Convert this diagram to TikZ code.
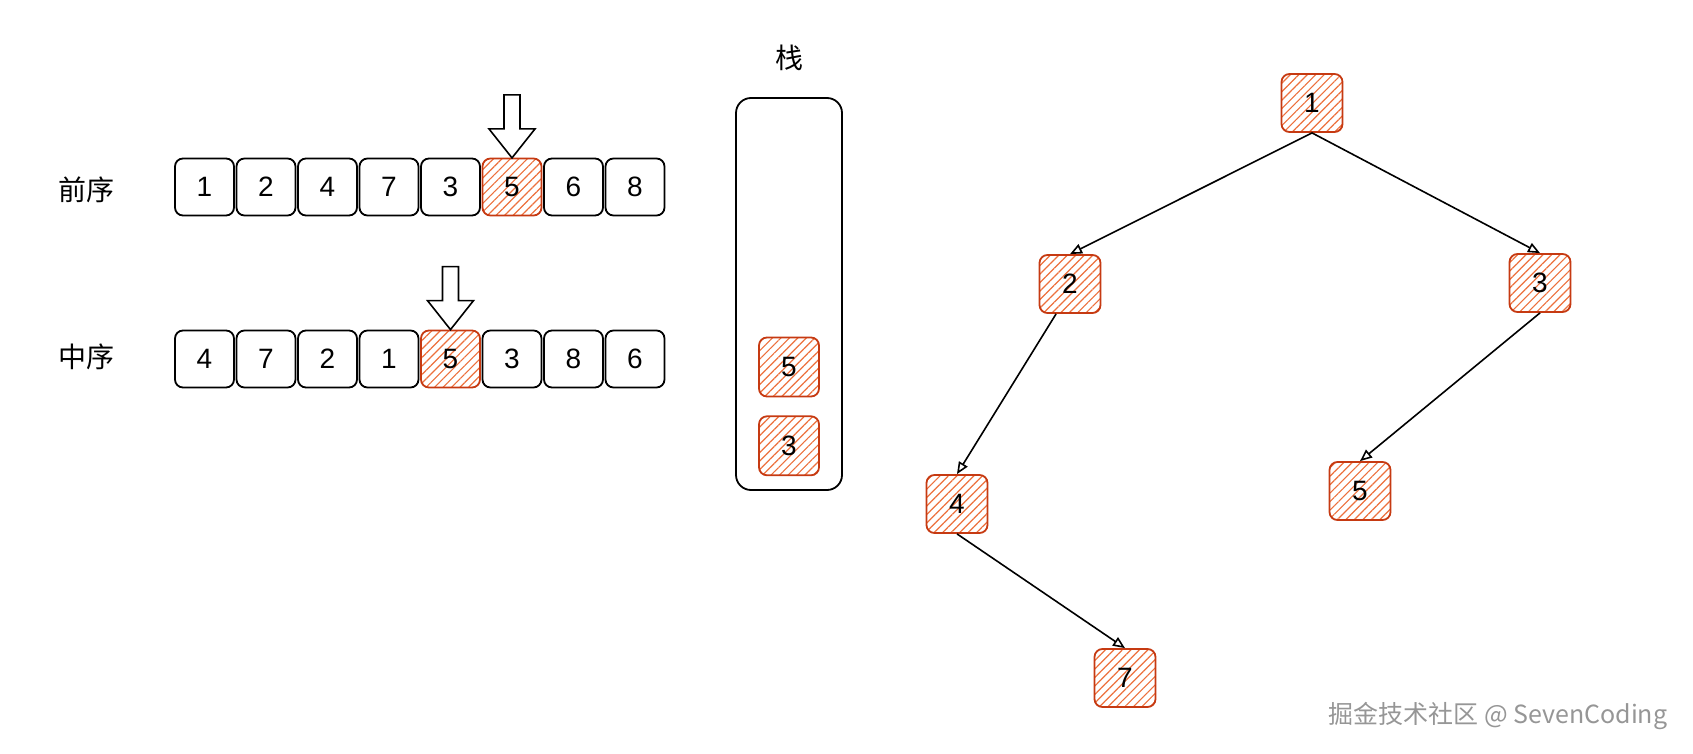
\documentclass[tikz,border=0pt]{standalone}
\usepackage{fontspec}
\setmainfont{Liberation Sans}
\newfontfamily\cjk{Noto Sans CJK SC}
\usetikzlibrary{arrows.meta,positioning,patterns.meta}
\definecolor{hotline}{RGB}{198,58,18}
\definecolor{hotfill}{RGB}{236,112,60}
\definecolor{markgray}{RGB}{150,150,150}
\tikzset{
  cell/.style     = {draw, rounded corners=8pt, line width=1.8pt, inner sep=0pt,
                     minimum width=59pt, minimum height=57pt,
                     font=\fontsize{28}{32}\selectfont},
  hot/.style      = {cell, draw=hotline, pattern color=hotfill,
                     pattern={Lines[angle=45,distance=6pt,line width=1.2pt]}},
  knot/.style     = {hot, minimum width=61pt, minimum height=58pt},
  cjklabel/.style = {font=\cjk\fontsize{28}{32}\selectfont},
  pointer/.style  = {draw, fill=white, line width=1.6pt, line join=miter},
  link/.style     = {draw, line width=1.6pt,
                     -{Triangle[open,length=12pt,width=10pt]}}
}

\begin{document}
\begin{tikzpicture}[x=1pt,y=-1pt]
\useasboundingbox (0,0) rectangle (1693,754);

% recorridos
\node[cjklabel] (pre) at (86,190) {前序};
\node[cjklabel] (mid) at (86,357) {中序};

\foreach \v/\s [count=\i] in {1/cell,2/cell,4/cell,7/cell,3/cell,5/hot,6/cell,8/cell}
  \node[\s] (p\i) at ({143+61.5*\i},187) {\v};

\foreach \v/\s [count=\i] in {4/cell,7/cell,2/cell,1/cell,5/hot,3/cell,8/cell,6/cell}
  \node[\s] (m\i) at ({143+61.5*\i},359) {\v};

\foreach \n in {p6,m5}
  \draw[pointer] (\n.north) -- ++(-23,-29) -- ++(15,0) -- ++(0,-34)
    -- ++(16,0) -- ++(0,34) -- ++(15,0) -- cycle;

% pila
\node[cjklabel] (stacktitle) at (789,58) {栈};
\node[draw, rounded corners=15pt, line width=1.8pt, minimum width=106pt,
      minimum height=392pt] (stack) at (789,294) {};
\node[hot, minimum width=60pt, minimum height=59pt] (s5) at (789,367) {5};
\node[hot, minimum width=60pt, minimum height=59pt, below=18pt of s5] (s3) {3};

% arbol
\node[knot] (t1) at (1312,103) {1};
\node[knot] (t2) at (1070,284) {2};
\node[knot] (t3) at (1540,283) {3};
\node[knot] (t4) at (957,504) {4};
\node[knot] (t5) at (1360,491) {5};
\node[knot] (t7) at (1125,678) {7};

\foreach \a/\b in {t1.south/t2.north, t1.south/t3.north, t2.-115/t4.north,
                   t3.south/t5.north, t4.south/t7.north}
  \draw[link] (\a) -- (\b);

\node[font=\cjk\fontsize{25}{28}\selectfont, text=markgray] (mark) at (1498,716)
  {掘金技术社区 @ SevenCoding};
\end{tikzpicture}
\end{document}
